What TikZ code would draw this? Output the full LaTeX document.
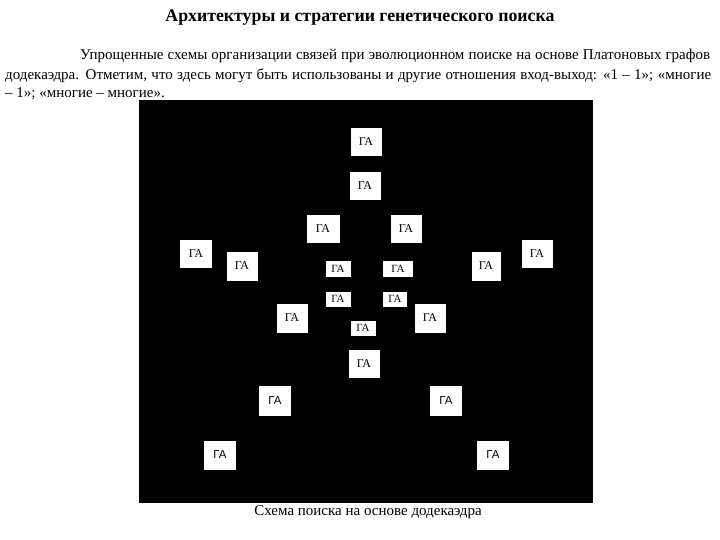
\documentclass[tikz,border=0pt]{standalone}
\usepackage{fontspec}
\setmainfont{Liberation Serif}
\newfontfamily\sansf{Liberation Sans}
\begin{document}
\begin{tikzpicture}[x=1pt,y=-1pt,
  gabox/.style={fill=white,draw=none,inner sep=0pt,font=\fontsize{12}{13}\selectfont,text=black},
  big/.style={gabox,minimum width=31pt,minimum height=28pt},
  small/.style={gabox,minimum width=26pt,minimum height=16pt,font=\fontsize{11}{12}\selectfont},
  sbig/.style={big,font=\sansf\fontsize{11.5}{13}\selectfont,minimum height=30pt},
  txt/.style={inner sep=0pt,anchor=base west,font=\fontsize{15}{17}\selectfont}]
\useasboundingbox (0,0) rectangle (720,540);
\fill[white] (0,0) rectangle (720,540);
\node[inner sep=0pt,anchor=base,font=\bfseries\fontsize{17.8}{20}\selectfont] (title) at (360,22) {Архитектуры и стратегии генетического поиска};
\node[txt] (p1) at (80,60) {\makebox[630pt][s]{Упрощенные схемы организации связей при эволюционном поиске на основе Платоновых графов}};
\node[txt] (p2) at (5,80) {\makebox[706pt][s]{додекаэдра. Отметим, что здесь могут быть использованы и другие отношения вход-выход: «1 – 1»; «многие}};
\node[txt] (p3) at (5,98) {– 1»; «многие – многие».};
\fill[black] (139,100) rectangle (593,503);
\node[big] (b1) at (366,142) {ГА};
\node[big] (b2) at (365,186) {ГА};
\node[big,minimum width=33pt] (b3) at (323,229) {ГА};
\node[big] (b4) at (406,229) {ГА};
\node[small,minimum width=25pt] (s1) at (338,269) {ГА};
\node[small,minimum width=30pt] (s2) at (398,269) {ГА};
\node[small,minimum width=25pt,minimum height=15pt] (s3) at (338,299) {ГА};
\node[small,minimum width=24pt,minimum height=15pt] (s4) at (395,299) {ГА};
\node[big,minimum height=29pt] (m1) at (292,318) {ГА};
\node[big,minimum height=29pt] (m2) at (430,318) {ГА};
\node[small,minimum width=25pt,minimum height=15pt] (s5) at (363,328) {ГА};
\node[big] (b5) at (364,364) {ГА};
\node[big,minimum width=32pt] (l1) at (196,254) {ГА};
\node[big,minimum height=29pt] (l2) at (242,266) {ГА};
\node[big,minimum width=29pt,minimum height=29pt] (r1) at (486,266) {ГА};
\node[big] (r2) at (537,254) {ГА};
\node[sbig,minimum width=32pt] (ll1) at (275,401) {ГА};
\node[sbig,minimum width=32pt,minimum height=29pt] (ll2) at (220,455) {ГА};
\node[sbig,minimum width=32pt] (rr1) at (446,401) {ГА};
\node[sbig,minimum width=32pt,minimum height=29pt] (rr2) at (493,455) {ГА};
\node[inner sep=0pt,anchor=base,font=\fontsize{15}{17}\selectfont] (cap) at (368,515) {Схема поиска на основе додекаэдра};
\end{tikzpicture}
\end{document}
